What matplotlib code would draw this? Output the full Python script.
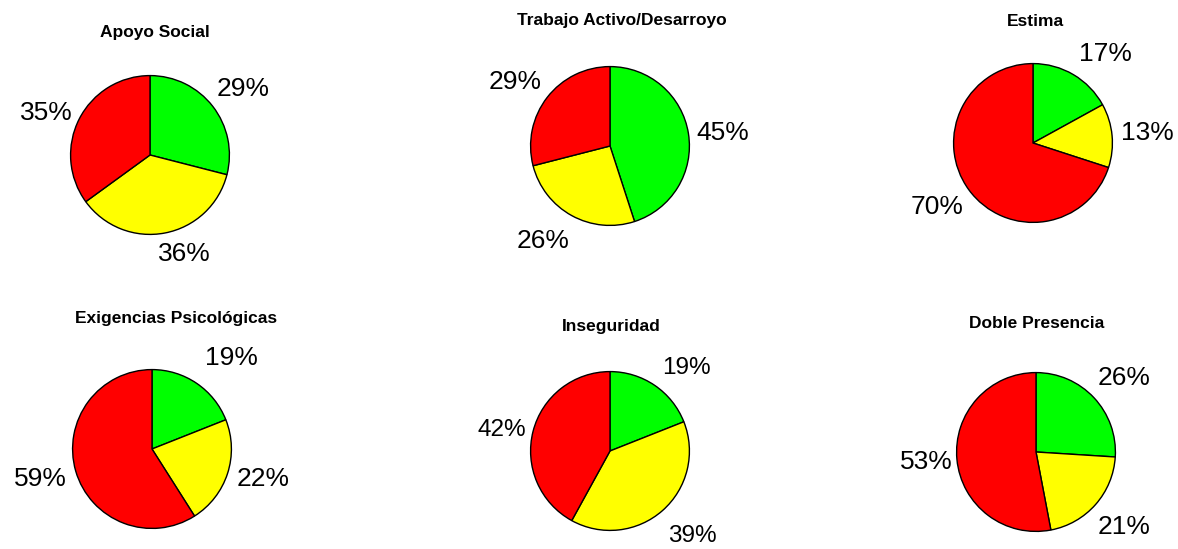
import matplotlib
matplotlib.use("Agg")
import matplotlib.pyplot as plt

plt.rcParams['font.family'] = ['Liberation Sans', 'DejaVu Sans']

# ---- datos ----
titulos = ["Apoyo Social", "Trabajo Activo/Desarroyo", "Estima",
           "Exigencias Psicológicas", "Inseguridad", "Doble Presencia"]
# orden: verde, amarillo, rojo
apoyo_social = [29, 36, 35]
trabajo_activo = [45, 26, 29]
estima = [17, 13, 70]
exigencias = [19, 22, 59]
inseguridad = [19, 39, 42]
doble_presencia = [26, 21, 53]
series = [apoyo_social, trabajo_activo, estima,
          exigencias, inseguridad, doble_presencia]
colores = ["#00ff00", "#ffff00", "#ff0000"]

# ---- disposición (pixeles) ----
W, H = 1178, 549
R = 81
centros = [(150, 155), (610, 146), (1033, 143),
           (152, 449), (610, 451), (1036, 452)]
pos_titulos = [(155, 32), (622, 21), (1035, 21),
               (176, 319), (611, 326), (1037, 324)]
# posición de las etiquetas en radios respecto al centro
pos_etiquetas = [
    [(1.17, 0.83), (0.43, -1.25), (-1.30, 0.53)],
    [(1.42, 0.16), (-0.84, -1.19), (-1.20, 0.81)],
    [(0.91, 1.12), (1.44, 0.12), (-1.21, -0.80)],
    [(1.00, 1.14), (1.40, -0.38), (-1.41, -0.38)],
    [(0.96, 1.04), (1.04, -1.07), (-1.36, 0.26)],
    [(1.11, 0.93), (1.11, -0.94), (-1.38, -0.13)],
]
tam_etiquetas = [19, 19, 19, 19, 17.5, 19]

fig = plt.figure(figsize=(W / 100, H / 100), dpi=100)

for i, valores in enumerate(series):
    cx, cy = centros[i]
    ax = fig.add_axes([(cx - R) / W, 1 - (cy + R) / H, 2 * R / W, 2 * R / H])
    ax.pie(valores, colors=colores, startangle=90, counterclock=False,
           radius=1, wedgeprops=dict(edgecolor='black', linewidth=1))
    ax.set_xlim(-1.02, 1.02)
    ax.set_ylim(-1.02, 1.02)
    ax.set_aspect('auto')
    ax.axis('off')
    for v, (dx, dy) in zip(valores, pos_etiquetas[i]):
        ax.text(dx, dy, f"{v}%", ha='center', va='center',
                fontsize=tam_etiquetas[i], clip_on=False)
    tx, ty = pos_titulos[i]
    fig.text(tx / W, 1 - ty / H, titulos[i], ha='center', va='center',
             fontsize=12.5, fontweight='bold')

fig.savefig("out.png", dpi=100, facecolor='white')
